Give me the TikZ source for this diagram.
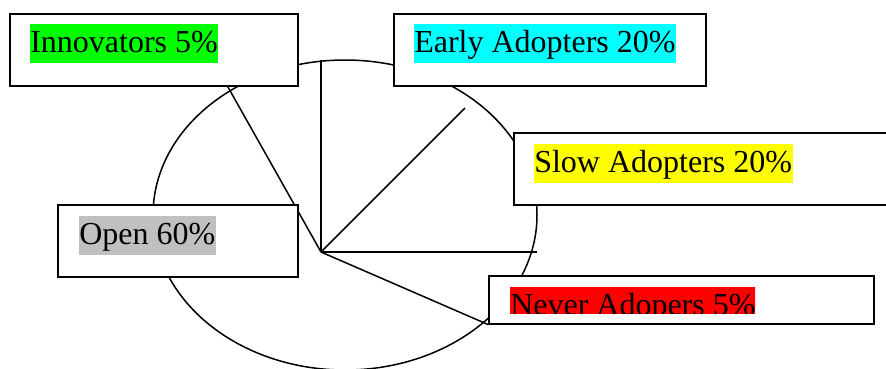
\documentclass[tikz,border=0pt]{standalone}
\usepackage{fontspec}
\setmainfont{Liberation Serif}
\usepackage{tikz}
\usetikzlibrary{calc}
\tikzstyle{cadre} = [rectangle, draw=black, fill=white, line width=1.5pt, inner sep=0pt, minimum height=72pt, anchor=north west]
\tikzstyle{marque} = [rectangle, inner xsep=0.5pt, inner ysep=0pt, text height=29pt, text depth=10pt, anchor=north west, font=\fontsize{32}{38}\selectfont]

\begin{document}
\begin{tikzpicture}[x=1pt, y=-1pt, line width=1.5pt]

        \clip (0,0) rectangle (886,368);

        %% pie
        \draw (345,215) ellipse [x radius=192pt, y radius=155pt];
        \coordinate (C) at (321,252);
        \coordinate (R1) at (321,60);
        \coordinate (R2) at (465,108);
        \coordinate (R3) at (537,252);
        \coordinate (R4) at (224,80);

        \draw (C) -- (R1);
        \draw (C) -- (R2);
        \draw (C) -- (R3);
        \draw (C) -- (R4);

        %% labels
        \node (B1) [cadre, minimum width=288pt] at (9,13) {};
        \node (T1) [marque, fill={rgb,255:red,0;green,255;blue,0}] at ($(B1.north west) + (20,10)$) {Innovators 5\%};

        \node (B2) [cadre, minimum width=312pt] at (393,13) {};
        \node (T2) [marque, fill={rgb,255:red,0;green,255;blue,255}] at ($(B2.north west) + (20,10)$) {Early Adopters 20\%};

        \node (B3) [cadre, minimum width=400pt] at (513,132) {};
        \node (T3) [marque, fill={rgb,255:red,255;green,255;blue,0}] at ($(B3.north west) + (20,11)$) {Slow Adopters 20\%};

        \node (B4) [cadre, minimum width=240pt] at (57,204) {};
        \node (T4) [marque, fill={rgb,255:red,192;green,192;blue,192}] at ($(B4.north west) + (21,11)$) {Open 60\%};

        \node (B5) [cadre, minimum width=385pt, minimum height=48pt] at (488,275) {};
        \begin{scope}
            \clip ($(B5.north west) + (21,11)$) rectangle ($(B5.north west) + (267,38)$);
            \node (T5) [marque, fill={rgb,255:red,255;green,0;blue,0}] at ($(B5.north west) + (21,11)$) {Never Adopers 5\%};
        \end{scope}

        \draw (C) -- (B5.south west);

    \end{tikzpicture}
\end{document}
